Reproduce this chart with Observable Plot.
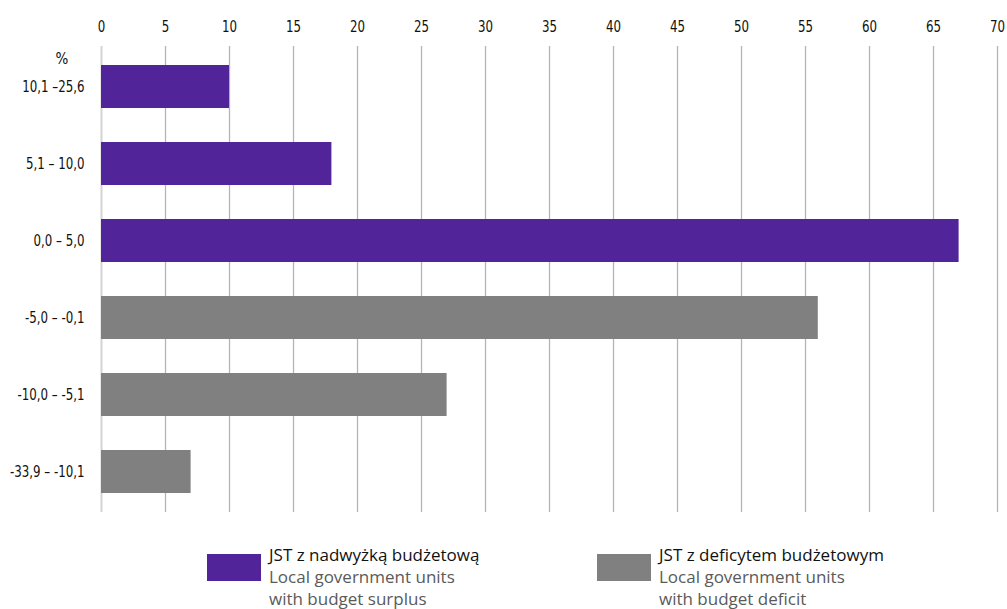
<!DOCTYPE html>
<html>
<head>
<meta charset="utf-8">
<script src="https://cdn.jsdelivr.net/npm/d3@7"></script>
<script src="https://cdn.jsdelivr.net/npm/@observablehq/plot@0.6"></script>
<style>
  html, body { margin: 0; padding: 0; background: #fff; }
  #chart { position: relative; width: 1007px; }
  .legend { position: relative; height: 79px; font-family: "Open Sans", "Noto Sans", sans-serif; font-size: 17px; line-height: 22px; }
  .item { position: absolute; }
  .sw { position: absolute; top: 24px; width: 54px; height: 27px; }
  .l1 { color: #111; }
  .l2 { color: #5a5a5a; }
</style>
</head>
<body>
<div id="chart"></div>
<script>
const categories = ["10,1 –25,6", "5,1 – 10,0", "0,0 – 5,0", "-5,0 – -0,1", "-10,0 – -5,1", "-33,9 – -10,1"];
const values = [10, 18, 67, 56, 27, 7];
const groups = ["surplus", "surplus", "surplus", "deficit", "deficit", "deficit"];
const xTicks = [0, 5, 10, 15, 20, 25, 30, 35, 40, 45, 50, 55, 60, 65, 70];
const legendLabels = {
  surplus: ["JST z nadwyżką budżetową", "Local government units", "with budget surplus"],
  deficit: ["JST z deficytem budżetowym", "Local government units", "with budget deficit"]
};
const colors = {surplus: "#52249a", deficit: "#808080"};

const data = categories.map((c, i) => ({cat: c, value: values[i], group: groups[i]}));
const font = "'DejaVu Sans Condensed', 'DejaVu Sans', sans-serif";

const plot = Plot.plot({
  width: 1007,
  height: 530,
  marginLeft: 101,
  marginRight: 10,
  marginTop: 46,
  marginBottom: 18,
  style: {fontFamily: font, fontSize: "16px", color: "#111", background: "#fff"},
  x: {domain: [0, 70], ticks: xTicks, axis: "top", tickSize: 0, tickPadding: 15, label: null},
  y: {domain: categories, paddingInner: 0.445, paddingOuter: 0.2225, axis: "left", tickSize: 0, tickPadding: 17, label: null},
  color: {domain: ["surplus", "deficit"], range: [colors.surplus, colors.deficit]},
  marks: [
    Plot.ruleX(xTicks.filter(d => d > 0), {stroke: "#b4b4b4", strokeWidth: 1.3}),
    Plot.ruleX([0], {stroke: "#d4d4d4", strokeWidth: 2}),
    Plot.barX(data, {x: "value", y: "cat", fill: "group"}),
    Plot.text(["%"], {frameAnchor: "top-left", dx: -46, dy: 7, fontSize: 15, fill: "#111"})
  ]
});
document.getElementById("chart").appendChild(plot);

// narrow the axis labels to imitate the condensed face of the original
plot.querySelectorAll("g[aria-label$='tick label'] text").forEach(t => {
  const w = t.getComputedTextLength();
  t.setAttribute("textLength", (w * 0.82).toFixed(1));
  t.setAttribute("lengthAdjust", "spacingAndGlyphs");
});

const legend = document.createElement("div");
legend.className = "legend";
const pos = {surplus: 207, deficit: 597};
for (const g of ["surplus", "deficit"]) {
  const sw = document.createElement("div");
  sw.className = "sw";
  sw.style.left = pos[g] + "px";
  sw.style.background = colors[g];
  legend.appendChild(sw);
  const it = document.createElement("div");
  it.className = "item";
  it.style.left = (pos[g] + 62) + "px";
  it.style.top = "14px";
  it.innerHTML = `<div class="l1">${legendLabels[g][0]}</div><div class="l2">${legendLabels[g][1]}</div><div class="l2">${legendLabels[g][2]}</div>`;
  legend.appendChild(it);
}
document.getElementById("chart").appendChild(legend);
</script>
</body>
</html>
